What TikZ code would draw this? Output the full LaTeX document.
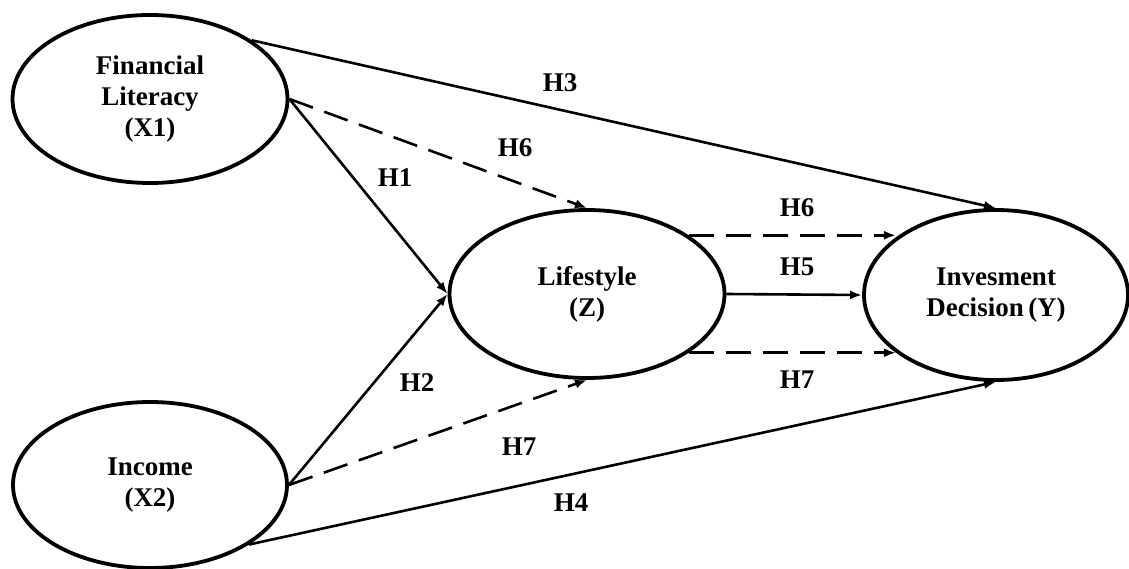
\documentclass[tikz,border=0pt]{standalone}
\usepackage{fontspec}
\setmainfont{Liberation Serif}
\usetikzlibrary{shapes.geometric,arrows.meta}
\begin{document}
\begin{tikzpicture}[x=1pt,y=-1pt,
  lat/.style={ellipse,draw,line width=3.8pt,inner sep=0pt,align=center,
    font=\fontsize{27}{31}\selectfont\bfseries},
  conn/.style={line width=2.6pt,-{Latex[length=12pt,width=9pt]}},
  dsh/.style={conn,dash pattern=on 25pt off 12pt},
  lbl/.style={font=\fontsize{27}{30}\selectfont\bfseries,inner sep=0pt}]
\useasboundingbox (0,0) rectangle (1129,569);

\node[lat,minimum width=275pt,minimum height=168pt] (X1) at (150,99) {Financial\\Literacy\\(X1)};
\node[lat,minimum width=274pt,minimum height=166pt] (X2) at (150,485) {Income\\(X2)};
\node[lat,minimum width=275pt,minimum height=168pt] (Z) at (587,294) {Lifestyle\\(Z)};
\node[lat,minimum width=264pt,minimum height=170pt] (Y) at (996,295) {Invesment\\Decision\,(Y)};

\draw[conn] (X1.30) -- (Y.north);
\draw[dsh] (X1.east) -- (Z.north);
\draw[conn] (X1.east) -- (Z.west);
\draw[conn] (X2.east) -- (Z.west);
\draw[dsh] (X2.east) -- (Z.south);
\draw[conn] (X2.-31) -- (Y.south);
\draw[dsh] (Z.30) -- (Z.30 -| Y.150);
\draw[conn] (Z.east) -- (Y.west);
\draw[dsh] (Z.-30) -- (Z.-30 -| Y.-150);

\node[lbl] (h3) at (560,83) {H3};
\node[lbl] (h6a) at (515,148) {H6};
\node[lbl] (h1) at (395,178) {H1};
\node[lbl] (h6b) at (797,208) {H6};
\node[lbl] (h5) at (797,267) {H5};
\node[lbl] (h7b) at (797,380) {H7};
\node[lbl] (h2) at (417,383) {H2};
\node[lbl] (h7a) at (519,447) {H7};
\node[lbl] (h4) at (571,503) {H4};
\end{tikzpicture}
\end{document}
